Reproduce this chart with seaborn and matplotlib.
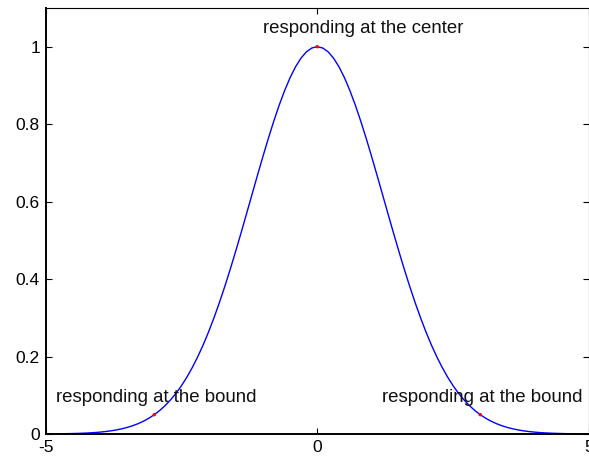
import matplotlib
matplotlib.use("Agg")
import matplotlib.pyplot as plt
import seaborn as sns
import pandas as pd

# Response curve sampled along the stimulus axis (right half; the curve is symmetric)
half_x = [round(0.1 * i, 1) for i in range(51)]
half_y = [1.0000, 0.9967, 0.9868, 0.9704, 0.9481, 0.9200, 0.8869, 0.8493,
          0.8079, 0.7634, 0.7165, 0.6681, 0.6188, 0.5693, 0.5203, 0.4724,
          0.4260, 0.3816, 0.3396, 0.3002, 0.2636, 0.2299, 0.1992, 0.1715,
          0.1466, 0.1245, 0.1050, 0.0880, 0.0733, 0.0606, 0.0498, 0.0406,
          0.0329, 0.0265, 0.0212, 0.0169, 0.0133, 0.0104, 0.0081, 0.0063,
          0.0048, 0.0037, 0.0028, 0.0021, 0.0016, 0.0012, 0.0009, 0.0006,
          0.0005, 0.0003, 0.0002]

x_vals = [-v for v in half_x[:0:-1]] + half_x
y_vals = half_y[:0:-1] + half_y

# Marked response points
point_x = [-3.0, 0.0, 3.0]
point_y = [0.0498, 1.0, 0.0498]

# Labels and their anchor positions
labels = ["responding at the bound", "responding at the center", "responding at the bound"]
label_x = [-4.8, -1.0, 1.2]
label_y = [0.095, 1.047, 0.095]

x_ticks = [-5, 0, 5]
y_ticks = [0, 0.2, 0.4, 0.6, 0.8, 1.0]
y_tick_labels = ["0", "0.2", "0.4", "0.6", "0.8", "1"]

sns.set_style("white")
plt.rcParams["font.family"] = ["Liberation Sans", "DejaVu Sans"]

curve = pd.DataFrame({"x": x_vals, "y": y_vals})
pts = pd.DataFrame({"x": point_x, "y": point_y})

fig = plt.figure(figsize=(5.89, 4.62), dpi=100)
ax = fig.add_axes([0.0773, 0.0606, 0.9227, 0.9221])

sns.lineplot(data=curve, x="x", y="y", ax=ax, color="#0000ff", linewidth=1.0)
sns.scatterplot(data=pts, x="x", y="y", ax=ax, color="#ff0000", s=6,
                edgecolor="none", zorder=3)

for t, tx, ty in zip(labels, label_x, label_y):
    ax.text(tx, ty, t, ha="left", va="center", fontsize=13.4, color="#111111")

ax.set_xlim(-5, 5)
ax.set_ylim(0, 1.1)
ax.set_xticks(x_ticks)
ax.set_xticklabels([str(v) for v in x_ticks])
ax.set_yticks(y_ticks)
ax.set_yticklabels(y_tick_labels)
ax.set_xlabel("")
ax.set_ylabel("")
ax.tick_params(direction="in", length=4, width=0.8, labelsize=12.5,
               top=True, right=True, bottom=True, left=True, colors="black",
               pad=4)
for side, spine in ax.spines.items():
    spine.set_visible(True)
    spine.set_color("black")
    spine.set_linewidth(1.4 if side in ("left", "bottom") else 0.8)

fig.savefig("out.png", dpi=100)
